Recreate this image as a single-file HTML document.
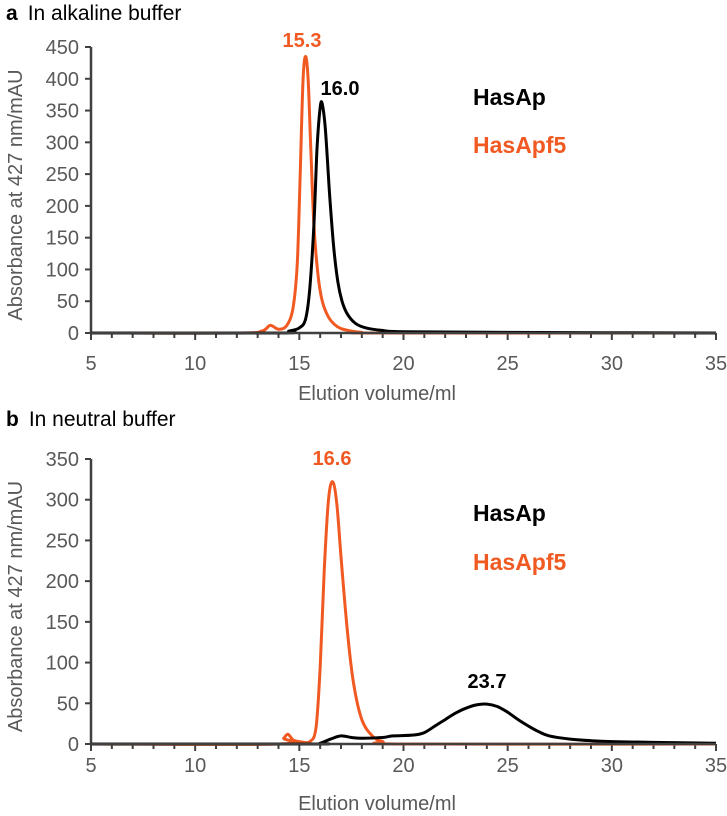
<!DOCTYPE html>
<html><head><meta charset="utf-8"><style>
body{margin:0;background:#fff;}
svg{display:block;font-family:"Liberation Sans",sans-serif;}
</style></head><body>
<svg id="chart" width="727" height="816" viewBox="0 0 727 816" xmlns="http://www.w3.org/2000/svg"></svg>
<script>
// Panel a data (alkaline buffer)
const aOrangeX=[5,12,13.2,13.6,14.0,14.4,14.7,14.9,15.05,15.18,15.3,15.42,15.55,15.7,15.9,16.1,16.4,16.7,17,17.5,18,19,35];
const aOrangeY=[0,0,3,12,6,12,40,110,260,400,435,400,290,170,90,50,25,13,7,3,1,0,0];
const aBlackX=[5,14,14.5,15,15.3,15.5,15.7,15.85,16.0,16.1,16.25,16.45,16.65,16.85,17.05,17.3,17.7,18.2,19,20,25,35];
const aBlackY=[0,0,3,8,22,70,170,290,355,360,320,220,135,80,50,30,15,8,4,2,1,0];
// Panel b data (neutral buffer)
const bOrangeX=[5,14,14.25,14.45,14.7,15.0,15.5,15.8,16.0,16.2,16.4,16.6,16.8,17.0,17.3,17.6,18,18.5,19,20,35];
const bOrangeY=[0,0,7,12,5,3,3,20,95,215,300,322,295,230,140,75,30,10,3,0,0];
const bBlackX=[5,15.5,16,16.5,17,17.5,18,19,19.5,20.5,21,21.5,22,22.5,23,23.5,24,24.5,25,25.5,26,26.5,27,28,29,30,32,35];
const bBlackY=[0,0,1,6,10,8,7,8,10,11,14,22,30,38,44,48,49,46,39,30,22,15,10,6,4,3,2,1];
const xTicks=[5,10,15,20,25,30,35];
const aYTicks=[0,50,100,150,200,250,300,350,400,450];
const bYTicks=[0,50,100,150,200,250,300,350];

const NS="http://www.w3.org/2000/svg";
const svg=document.getElementById('chart');
function el(tag,attrs,parent){const e=document.createElementNS(NS,tag);for(const k in attrs)e.setAttribute(k,attrs[k]);(parent||svg).appendChild(e);return e;}
function txt(s,attrs,parent){const e=el('text',attrs,parent);e.textContent=s;return e;}
const ORANGE='#f05a22',AX='#404040',LAB='#595959';

function smooth(pts){
  let d='M'+pts[0][0].toFixed(1)+','+pts[0][1].toFixed(1);
  for(let i=0;i<pts.length-1;i++){
    const p0=pts[i-1]||pts[i],p1=pts[i],p2=pts[i+1],p3=pts[i+2]||p2;
    const c1=[p1[0]+(p2[0]-p0[0])/6,p1[1]+(p2[1]-p0[1])/6];
    const c2=[p2[0]-(p3[0]-p1[0])/6,p2[1]-(p3[1]-p1[1])/6];
    d+=' C'+c1[0].toFixed(1)+','+c1[1].toFixed(1)+' '+c2[0].toFixed(1)+','+c2[1].toFixed(1)+' '+p2[0].toFixed(1)+','+p2[1].toFixed(1);
  }
  return d;
}

function panel(p){
  const g=el('g',{});
  
  
  const X=v=>91+(v-5)*(716-91)/30;
  const Y=v=>p.y0-(v)*(p.y0-p.yTop)/p.yMax;
  const t=txt('',{x:6,y:p.titleY,'font-size':21,fill:'#000'},g);
  
  
  const b=document.createElementNS(NS,'tspan');b.setAttribute('font-weight','bold');b.textContent=p.letter;t.appendChild(b);
  const r=document.createElementNS(NS,'tspan');r.setAttribute('dx','10');r.textContent=p.title;t.appendChild(r);
  const ya=el('line',{x1:X(5),x2:X(5),y1:Y(0),y2:Y(p.yMax),stroke:AX,'stroke-width':2.5},g);
  
  
  p.yTicks.forEach(v=>{
    el('line',{x1:X(5)-6,x2:X(5),y1:Y(v),y2:Y(v),stroke:AX,'stroke-width':2},g);
    const l=txt(String(v),{x:79,y:Y(v)+7,'text-anchor':'end','font-size':20,fill:LAB},g);
    
    
  });
  for(let v=5;v<=35;v++){
    const major=(v%5===0);
    el('line',{x1:X(v),x2:X(v),y1:Y(0),y2:Y(0)+(major?7:5),stroke:AX,'stroke-width':2},g);
  }
  xTicks.forEach(v=>{
    const l=txt(String(v),{x:X(v),y:p.xLabY,'text-anchor':'middle','font-size':20,fill:LAB},g);
    
    
  });
  const xt=txt('Elution volume/ml',{x:377,y:p.xTitleY,'text-anchor':'middle','font-size':20,fill:LAB},g);
  
  
  const yt=txt('Absorbance at 427 nm/mAU',{x:0,y:0,'text-anchor':'middle','font-size':20,fill:LAB,transform:`translate(22,${(Y(0)+Y(p.yMax))/2+5}) rotate(-90)`},g);
  
  
  function line(xs,ys,color,name){
    const pts=xs.map((x,i)=>[X(x),Y(ys[i])]);
    const pth=el('path',{d:smooth(pts),fill:'none',stroke:color,'stroke-width':3,'stroke-linejoin':'round'},g);
    
    
  }
  line(p.ox,p.oy,ORANGE,'hasapf5-line');
  line(p.bx,p.by,'#000','hasap-line');
  const xa=el('line',{x1:X(5),x2:X(35),y1:Y(0),y2:Y(0),stroke:AX,'stroke-width':2.5},g);
  
  
  const l1=txt('HasAp',{x:473,y:p.leg1,'font-size':23,'font-weight':'bold',fill:'#000'},g);
  
  
  const l2=txt('HasApf5',{x:473,y:p.leg2,'font-size':23,'font-weight':'bold',fill:ORANGE},g);
  
  
  p.peaks.forEach(pk=>{
    const e=txt(pk.t,{x:pk.x,y:pk.y,'text-anchor':'middle','font-size':20,'font-weight':'bold',fill:pk.c},g);
    
    
  });
}
panel({name:'panel-a',letter:'a',title:'In alkaline buffer',titleY:20,y0:333,yTop:47,yMax:450,yTicks:aYTicks,
  xLabY:370,xTitleY:400,ox:aOrangeX,oy:aOrangeY,bx:aBlackX,by:aBlackY,leg1:105,leg2:153,
  peaks:[{t:'15.3',x:302,y:47,c:ORANGE},{t:'16.0',x:340,y:95,c:'#000'}]});
panel({name:'panel-b',letter:'b',title:'In neutral buffer',titleY:426,y0:744,yTop:459,yMax:350,yTicks:bYTicks,
  xLabY:772,xTitleY:810,ox:bOrangeX,oy:bOrangeY,bx:bBlackX,by:bBlackY,leg1:521,leg2:570,
  peaks:[{t:'16.6',x:332,y:465,c:ORANGE},{t:'23.7',x:487,y:688,c:'#000'}]});
</script>
</body></html>
